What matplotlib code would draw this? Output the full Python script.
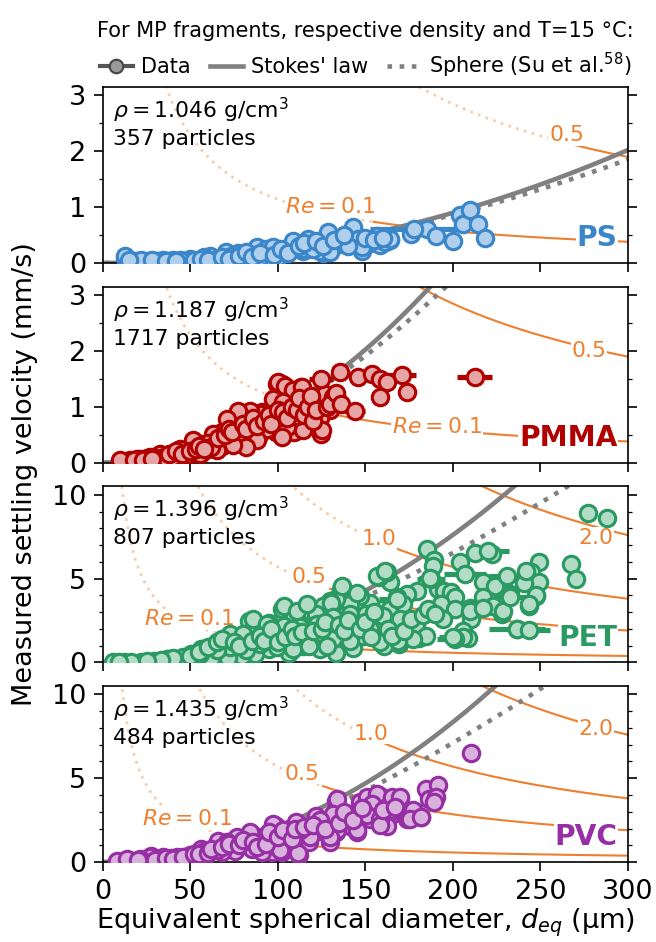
import numpy as np
import matplotlib.pyplot as plt
from matplotlib.lines import Line2D
from matplotlib.ticker import MultipleLocator

# water at T = 15 C
rho_w = 999.1      # kg/m3
mu = 1.138e-3      # Pa s
nu = mu / rho_w
g = 9.81

names = ["PS", "PMMA", "PET", "PVC"]
densities = [1.046, 1.187, 1.396, 1.435]
counts = [357, 1717, 807, 484]
edge_colors = ["#3a86c9", "#b00000", "#2a9a62", "#952fa3"]
face_colors = ["#b0cfec", "#e6a6a6", "#b2dcc6", "#d9b1dd"]
y_top = [3.15, 3.15, 10.5, 10.5]
orange = "#ef7f2e"

# measured (d_eq in um, v in mm/s)
ps_pts = [(12.8, 0.09), (17.6, 0.03), (25.3, 0.03), (32.1, 0.03), (37.9, 0.03), (46.5, 0.03),
          (54.3, 0.05), (63.9, 0.08), (69.7, 0.05), (77.4, 0.18), (81.3, 0.08), (87.1, 0.08),
          (94.8, 0.24), (94.8, 0.08), (100.6, 0.18), (106.4, 0.27), (110.3, 0.33), (114.1, 0.21),
          (118.0, 0.42), (123.8, 0.30), (125.7, 0.18), (128.6, 0.51), (133.4, 0.33), (137.3, 0.45),
          (143.1, 0.60), (145.0, 0.39), (147.9, 0.21), (152.7, 0.36), (158.5, 0.33), (162.4, 0.39),
          (164.3, 0.42), (175.9, 0.51), (185.5, 0.60), (190.4, 0.48), (200.0, 0.39), (203.9, 0.85),
          (205.8, 0.70), (209.7, 0.94), (214.5, 0.70), (218.3, 0.44),
          (12.6, 0.13), (19.0, 0.04), (26.5, 0.04), (31.0, 0.04), (34.3, 0.05), (40.0, 0.05),
          (49.5, 0.08), (61.0, 0.13), (66.0, 0.08), (70.5, 0.19), (76.0, 0.08), (80.0, 0.16),
          (88.0, 0.28), (89.5, 0.10), (93.0, 0.25), (97.0, 0.28), (108.8, 0.40), (113.5, 0.25),
          (117.0, 0.43), (124.0, 0.22), (128.8, 0.55), (135.4, 0.37), (143.0, 0.64), (146.0, 0.43),
          (148.0, 0.28), (156.4, 0.49), (161.0, 0.37), (164.0, 0.43),
          (22.0, 0.06), (44.0, 0.06), (58.0, 0.10), (73.0, 0.12), (84.0, 0.14), (100.0, 0.10),
          (104.0, 0.20), (120.0, 0.25), (130.0, 0.20), (140.0, 0.30),
          (15.0, 0.05), (28.0, 0.05), (36.0, 0.04), (42.0, 0.04), (52.0, 0.05), (56.0, 0.08),
          (60.0, 0.06), (68.0, 0.10), (72.0, 0.08), (78.0, 0.12), (82.0, 0.20), (85.0, 0.10),
          (90.0, 0.18), (98.0, 0.15), (102.0, 0.25), (106.0, 0.18), (112.0, 0.30), (115.0, 0.35),
          (122.0, 0.40), (126.0, 0.30), (132.0, 0.42), (138.0, 0.50), (150.0, 0.45), (155.0, 0.42),
          (160.0, 0.45)]
ps_err = [(177.8, 0.60, 25)]

pmma_pts = [(99.6, 1.41), (102.5, 1.40), (109.3, 1.27), (113.0, 1.35), (114.0, 1.34), (98.7, 1.12),
            (106.4, 1.06), (116.0, 1.06), (126.7, 1.15), (131.5, 1.12), (134.4, 1.10), (124.0, 1.06),
            (129.6, 0.94), (124.7, 0.52), (121.8, 0.67), (114.1, 0.67), (106.4, 0.61), (118.0, 0.79),
            (110.3, 0.82), (103.5, 0.76), (99.6, 0.91), (92.9, 0.67), (89.0, 0.79), (83.2, 0.85),
            (77.4, 0.91), (91.0, 0.91), (84.2, 0.67), (78.4, 0.64), (71.7, 0.76), (67.8, 0.55),
            (63.9, 0.49), (60.1, 0.24), (56.2, 0.33), (52.3, 0.36), (48.5, 0.24), (44.6, 0.18),
            (40.7, 0.18), (36.9, 0.12), (31.1, 0.12), (25.3, 0.09), (19.5, 0.06), (13.7, 0.03),
            (9.9, 0.03), (98.7, 0.55), (109.3, 0.55), (75.5, 0.42), (89.0, 0.49), (81.3, 0.36),
            (67.8, 0.30), (56.2, 0.18), (46.5, 0.09),
            (135.3, 1.62), (146.0, 1.54), (153.7, 1.58), (158.5, 1.49), (162.4, 1.45), (158.5, 1.18),
            (174.0, 1.27),
            (100.2, 1.44), (104.0, 1.38), (108.8, 1.30), (113.5, 1.36), (97.3, 1.14), (102.7, 1.08),
            (107.8, 0.99), (116.4, 1.11), (124.0, 1.08), (127.0, 1.23), (131.6, 1.17), (134.5, 1.11),
            (124.0, 0.80), (125.0, 0.58), (114.5, 0.58), (105.0, 0.64), (89.7, 0.88), (84.0, 0.93),
            (77.4, 0.93), (70.7, 0.78), (85.9, 0.70), (93.5, 0.61), (78.3, 0.52), (68.8, 0.40),
            (63.0, 0.52), (57.3, 0.31), (51.6, 0.40), (44.0, 0.25), (40.0, 0.10), (32.6, 0.16),
            (26.9, 0.10), (21.1, 0.07), (15.4, 0.04), (9.7, 0.04), (118.3, 0.93), (110.7, 0.84),
            (101.1, 0.81), (102.1, 0.46), (87.8, 0.40), (82.0, 0.28), (74.5, 0.31), (65.0, 0.22),
            (55.4, 0.16), (47.8, 0.13),
            (60.0, 0.35), (62.0, 0.28), (66.0, 0.45), (70.0, 0.50), (72.0, 0.60), (74.0, 0.55),
            (80.0, 0.70), (82.0, 0.60), (86.0, 0.80), (88.0, 0.65), (92.0, 0.75), (95.0, 0.85),
            (96.0, 0.70), (100.0, 0.95), (103.0, 0.90), (105.0, 0.80), (108.0, 1.00), (111.0, 0.95),
            (112.0, 1.15), (115.0, 0.85), (117.0, 1.00), (119.0, 1.20), (120.0, 0.75), (122.0, 0.95),
            (128.0, 1.00), (130.0, 1.05), (133.0, 1.25), (136.0, 1.05), (30.0, 0.08), (35.0, 0.10),
            (38.0, 0.15), (42.0, 0.20), (45.0, 0.15), (50.0, 0.20), (53.0, 0.25), (55.0, 0.30),
            (58.0, 0.25), (18.0, 0.04), (23.0, 0.05), (28.0, 0.06)]
pmma_err = [(212.6, 1.53, 10), (171.0, 1.57, 8), (124.7, 1.50, 7), (144.0, 0.92, 6)]

pet_pts = [(277.3, 8.93), (287.9, 8.61), (267.6, 5.87), (270.5, 4.97), (249.3, 5.97), (244.4, 5.37),
           (249.3, 4.77), (240.6, 4.71), (247.3, 3.97), (243.4, 3.37), (228.0, 2.87), (222.2, 6.47),
           (212.6, 6.53), (203.9, 5.97), (217.4, 4.77), (224.1, 4.57), (217.4, 3.87), (223.2, 3.37),
           (209.7, 3.27), (210.6, 2.57), (205.8, 1.87), (208.7, 1.47), (185.5, 6.77), (189.4, 6.13),
           (191.3, 4.37), (195.2, 4.27), (199.1, 4.17), (201.0, 3.87), (179.5, 4.27), (173.8, 4.07),
           (193.2, 3.47), (201.0, 3.17), (194.2, 2.57), (175.8, 2.17), (180.6, 1.47), (168.2, 3.87),
           (164.3, 4.77), (162.4, 5.37), (157.6, 5.07), (169.1, 1.07), (160.4, 0.97), (156.6, 1.47),
           (161.4, 2.77), (158.5, 3.17), (152.7, 3.57), (164.3, 3.17), (166.2, 2.37), (146.9, 3.97),
           (141.1, 3.47), (136.3, 4.37), (133.4, 3.77), (129.6, 3.67), (125.7, 3.37), (121.8, 2.87),
           (137.3, 2.77), (145.0, 2.37), (152.7, 1.97), (141.1, 1.77), (133.4, 1.37), (123.8, 1.57),
           (118.0, 2.17), (112.2, 2.37), (106.4, 1.87), (102.6, 3.17), (109.3, 2.77), (94.8, 2.37),
           (98.7, 1.57), (89.0, 1.97), (83.2, 2.47), (86.1, 1.67), (79.4, 1.37), (73.6, 1.57),
           (71.6, 0.77), (65.9, 0.97), (60.1, 0.67), (56.2, 0.77), (50.4, 0.47), (44.6, 0.27),
           (36.9, 0.17), (29.2, 0.07), (21.5, 0.04), (12.0, 0.04), (6.0, 0.04), (114.1, 0.97),
           (123.8, 0.77), (106.4, 0.57), (94.8, 0.77), (87.1, 0.47), (79.4, 0.37), (71.6, 0.27),
           (62.0, 0.17), (133.4, 0.57), (143.0, 0.87),
           (85.9, 2.58), (103.2, 3.38), (110.8, 3.08), (116.4, 3.47), (130.2, 3.57), (136.4, 4.55),
           (145.0, 4.16), (156.4, 5.15), (161.2, 5.45), (171.6, 3.47), (188.8, 5.74), (72.6, 1.69),
           (80.2, 1.69), (93.5, 2.28), (103.2, 2.19), (112.6, 2.09), (122.1, 2.28), (131.6, 2.68),
           (141.1, 2.88), (150.6, 2.88), (160.0, 2.78), (169.7, 2.58), (179.2, 2.28), (184.9, 1.60),
           (177.2, 1.40), (168.6, 1.30), (158.3, 1.20), (148.8, 1.60), (141.1, 1.30), (131.6, 1.40),
           (116.4, 1.30), (108.8, 0.81), (99.2, 0.91), (89.7, 1.10), (82.0, 0.71), (72.6, 0.91),
           (64.9, 0.71), (55.4, 0.51), (45.9, 0.32), (36.4, 0.22), (209.7, 3.08), (217.3, 3.27),
           (228.6, 3.08), (232.4, 4.06), (242.0, 5.45), (247.7, 4.00), (243.8, 3.50), (206.0, 1.50),
           (236.4, 2.00),
           (50.0, 0.40), (55.0, 0.60), (60.0, 0.90), (65.0, 1.20), (68.0, 1.40), (75.0, 1.20),
           (78.0, 1.00), (85.0, 1.30), (90.0, 1.60), (92.0, 1.30), (96.0, 2.00), (100.0, 1.20),
           (104.0, 1.50), (108.0, 2.00), (110.0, 1.60), (114.0, 1.80), (118.0, 1.00), (120.0, 1.90),
           (125.0, 2.00), (127.0, 2.40), (128.0, 1.00), (135.0, 2.20), (138.0, 1.90), (140.0, 2.50),
           (147.0, 2.00), (150.0, 2.40), (153.0, 1.50), (155.0, 3.00), (163.0, 2.00), (165.0, 1.60),
           (172.0, 1.90), (176.0, 2.60), (183.0, 2.80), (186.0, 3.20), (190.0, 2.90), (40.0, 0.25),
           (33.0, 0.12), (25.0, 0.06), (16.0, 0.04), (9.0, 0.04)]
pet_err = [(220.3, 6.67, 12), (230.9, 5.17, 10), (187.5, 4.97, 8), (206.8, 5.27, 12),
           (232.8, 3.87, 10), (236.7, 1.98, 16), (243.4, 1.95, 12), (201.0, 1.37, 10),
           (200.2, 1.50, 8), (168.0, 3.77, 10), (186.9, 5.05, 6)]

pvc_pts = [(210.2, 6.53), (184.6, 4.33), (191.3, 4.57), (186.5, 3.77), (190.4, 3.87), (189.4, 3.57),
           (166.2, 3.77), (170.0, 3.77), (160.4, 3.47), (158.5, 3.97), (152.7, 3.77), (133.4, 3.67),
           (147.0, 3.57), (152.7, 3.27), (156.6, 2.97), (164.3, 2.77), (177.8, 3.07), (174.0, 2.57),
           (181.7, 2.67), (162.4, 2.17), (152.7, 2.57), (145.0, 2.77), (141.1, 2.17), (133.4, 2.57),
           (125.7, 2.37), (118.0, 1.97), (121.8, 2.77), (133.4, 1.77), (145.0, 1.77), (123.8, 1.87),
           (112.2, 1.77), (106.4, 1.97), (110.3, 2.37), (98.7, 2.17), (97.7, 1.47), (106.4, 0.97),
           (112.2, 0.40), (96.7, 0.57), (91.0, 1.37), (87.1, 1.57), (83.2, 1.17), (75.5, 1.37),
           (70.7, 0.97), (65.9, 1.27), (75.5, 0.67), (67.8, 0.57), (56.2, 0.77), (58.1, 0.37),
           (50.4, 0.37), (44.6, 0.17), (38.8, 0.27), (33.0, 0.17), (27.2, 0.37), (23.4, 0.07),
           (17.6, 0.07), (11.8, 0.07), (7.9, 0.07), (118.0, 1.17), (129.6, 1.17), (85.1, 0.77),
           (91.0, 0.57), (102.6, 0.57),
           (133.5, 3.77), (150.7, 3.87), (156.4, 4.06), (165.0, 3.87), (169.7, 3.87), (153.5, 3.47),
           (145.0, 2.98), (150.7, 2.78), (158.3, 2.59), (165.9, 3.08), (177.3, 3.08), (175.4, 2.59),
           (182.0, 2.68), (139.2, 2.59), (131.6, 2.88), (124.0, 2.49), (118.3, 1.50), (112.6, 1.89),
           (106.9, 1.79), (97.3, 2.29), (91.6, 1.40), (84.0, 1.79), (76.4, 1.50), (70.7, 1.20),
           (65.0, 0.71), (57.3, 0.61), (49.7, 0.41), (42.1, 0.32), (34.5, 0.32), (27.0, 0.28),
           (21.1, 0.18), (13.5, 0.18), (111.6, 0.51), (101.1, 0.71), (133.5, 1.89), (145.0, 1.89),
           (158.3, 2.19), (129.7, 1.50),
           (20.0, 0.10), (30.0, 0.15), (36.0, 0.25), (40.0, 0.20), (46.0, 0.30), (52.0, 0.50),
           (55.0, 0.45), (60.0, 0.55), (62.0, 0.80), (68.0, 0.90), (72.0, 1.10), (78.0, 1.00),
           (80.0, 1.30), (86.0, 1.20), (88.0, 0.90), (93.0, 1.10), (95.0, 1.80), (100.0, 1.50),
           (103.0, 1.90), (108.0, 1.40), (110.0, 2.00), (115.0, 2.10), (120.0, 2.20), (127.0, 2.00),
           (135.0, 2.30), (138.0, 3.00), (143.0, 2.50), (148.0, 3.20), (160.0, 3.10), (167.0, 3.30)]
pvc_err = []

all_pts = [ps_pts, pmma_pts, pet_pts, pvc_pts]
all_err = [ps_err, pmma_err, pet_err, pvc_err]

# Reynolds number iso-lines and where their labels sit (d in um, v in mm/s)
re_levels = [[0.1, 0.5], [0.1, 0.5], [0.1, 0.5, 1.0, 2.0], [0.1, 0.5, 1.0, 2.0]]
re_label_pos = [[(130, 1.0), (265, 2.29)],
                [(191, 0.64), (278, 2.0)],
                [(49, 2.57), (118, 5.07), (158, 7.37), (282, 7.42)],
                [(48, 2.57), (114, 5.27), (153, 7.67), (282, 7.93)]]


def stokes(d_um, rho_p):
    dm = d_um * 1e-6
    return (rho_p * 1000 - rho_w) * g * dm ** 2 / (18 * mu) * 1000


def sphere(d_um, rho_p):
    vs = stokes(d_um, rho_p) / 1000
    v = vs.copy()
    for _ in range(100):
        re = v * d_um * 1e-6 / nu
        v = vs / (1 + 0.15 * re ** 0.687)
    return v * 1000


def re_line(d_um, re):
    return re * nu / (d_um * 1e-6) * 1000


d = np.linspace(1, 300, 1500)

fig = plt.figure(figsize=(656 / 150, 942 / 150), dpi=150)
gs = fig.add_gridspec(4, 1, left=0.157, right=0.957, top=0.9076, bottom=0.0849, hspace=0.135)
axes = [fig.add_subplot(gs[i]) for i in range(4)]

for i, ax in enumerate(axes):
    rho = densities[i]
    ec, fc = edge_colors[i], face_colors[i]

    # Re lines: faint above the Stokes curve, solid below it
    k = stokes(np.array([1.0]), rho)[0]
    for re in re_levels[i]:
        v_re = re_line(d, re)
        d_switch = 0.9 * (re * nu * 1e9 / k) ** (1 / 3)
        m = d <= d_switch
        ax.plot(d[m], v_re[m], color=orange, alpha=0.4, lw=1.3, ls=(0, (1, 2)), zorder=1)
        ax.plot(d[~m], v_re[~m], color=orange, lw=1.0, zorder=1)
    for j, (ld, lv) in enumerate(re_label_pos[i]):
        txt = "$Re = %.1f$" % re_levels[i][j] if j == 0 else "%.1f" % re_levels[i][j]
        ax.text(ld, lv, txt, color=orange, fontsize=10.5, ha="center", va="center", zorder=2.5,
                bbox=dict(fc="white", ec="none", pad=0.3))

    ax.plot(d, stokes(d, rho), color="#808080", lw=2.2, zorder=2)
    ax.plot(d, sphere(d, rho), color="#808080", lw=2.2, ls=":", zorder=2)

    pts = np.array(all_pts[i])
    if all_err[i]:
        err = np.array(all_err[i])
        ax.errorbar(err[:, 0], err[:, 1], xerr=err[:, 2], fmt="none", ecolor=ec, elinewidth=2.5, zorder=3)
        pts = np.vstack([pts, err[:, :2]])
    ax.scatter(pts[:, 0], pts[:, 1], s=62, facecolor=fc, edgecolor=ec, linewidth=1.5, zorder=4)

    ax.text(0.02, 0.95, r"$\rho = %.3f$ g/cm$^3$" % rho + "\n%d particles" % counts[i],
            transform=ax.transAxes, fontsize=10.5, va="top", ha="left", linespacing=1.25)
    ax.text(0.98, 0.14, names[i], transform=ax.transAxes, color=ec, fontsize=13.5, fontweight="bold",
            ha="right", va="center", zorder=5, bbox=dict(fc="white", ec="none", pad=0.3))

    ax.set_xlim(0, 300)
    ax.set_ylim(0, y_top[i])
    ax.xaxis.set_major_locator(MultipleLocator(50))
    if i < 2:
        ax.yaxis.set_major_locator(MultipleLocator(1))
        ax.yaxis.set_minor_locator(MultipleLocator(0.5))
    else:
        ax.yaxis.set_major_locator(MultipleLocator(5))
        ax.yaxis.set_minor_locator(MultipleLocator(1))
    ax.tick_params(axis="y", which="both", right=True)
    ax.tick_params(which="major", length=4.5, labelsize=13)
    ax.tick_params(which="minor", length=2)
    if i < 3:
        ax.tick_params(labelbottom=False)

axes[-1].set_xlabel("Equivalent spherical diameter, $d_{eq}$ (µm)", fontsize=13, labelpad=1)
fig.text(0.038, 0.497, "Measured settling velocity (mm/s)", rotation=90, fontsize=13,
         ha="center", va="center")

handles = [Line2D([0], [0], marker="o", color="#555555", mfc="#999999", mec="#444444", ms=6.5, lw=2),
           Line2D([0], [0], color="#808080", lw=2.2),
           Line2D([0], [0], color="#808080", lw=2.2, ls=":")]
labels = ["Data", "Stokes' law", "Sphere (Su et al.$^{58}$)"]
fig.legend(handles, labels, loc="upper right", bbox_to_anchor=(0.995, 0.998), ncol=3, frameon=False,
           title="For MP fragments, respective density and T=15 °C:", fontsize=10, title_fontsize=10,
           handlelength=1.6, columnspacing=0.9, handletextpad=0.4)

fig.savefig("out.png", dpi=150)
